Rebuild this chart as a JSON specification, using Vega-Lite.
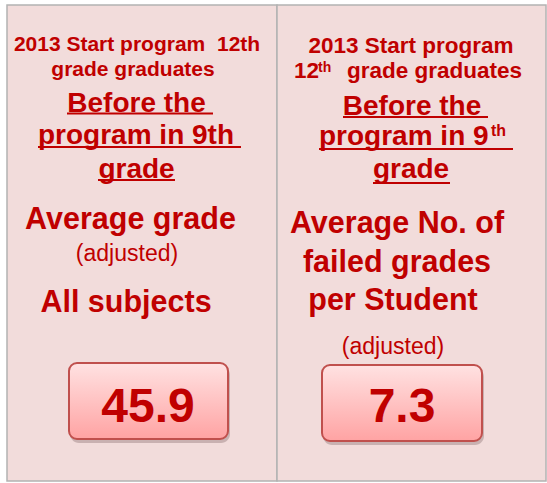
{
  "$schema": "https://vega.github.io/schema/vega-lite/v6.json",
  "width": 547,
  "height": 483,
  "padding": 0,
  "autosize": {"type": "fit", "contains": "padding"},
  "background": "white",
  "config": {"view": {"stroke": null}},
  "datasets": {
    "panels": [
      {"x0": 7, "x1": 277, "y0": 5, "y1": 481},
      {"x0": 277, "x1": 546, "y0": 5, "y1": 481}
    ],
    "shadows": [
      {"x0": 70, "x1": 230, "y0": 366, "y1": 443},
      {"x0": 323, "x1": 484, "y0": 368, "y1": 445}
    ],
    "boxes": [
      {"x0": 69, "x1": 228, "y0": 363, "y1": 439},
      {"x0": 322, "x1": 482, "y0": 365, "y1": 441}
    ],
    "boldCenter": [
      {"x": 137, "y": 51, "size": 21, "text": "2013 Start program\u00a0 12th"},
      {"x": 133, "y": 76, "size": 21, "text": "grade graduates"},
      {"x": 136.5, "y": 112, "size": 28, "text": "Before the"},
      {"x": 136, "y": 144, "size": 28, "text": "program in 9th"},
      {"x": 136.5, "y": 178, "size": 28, "text": "grade"},
      {"x": 130.5, "y": 229, "size": 30.5, "text": "Average grade"},
      {"x": 126, "y": 312, "size": 30.5, "text": "All subjects"},
      {"x": 148, "y": 422, "size": 48, "text": "45.9"},
      {"x": 411, "y": 53, "size": 22.5, "text": "2013 Start program"},
      {"x": 412, "y": 115, "size": 28, "text": "Before the"},
      {"x": 411, "y": 178, "size": 28, "text": "grade"},
      {"x": 397, "y": 233, "size": 30.5, "text": "Average No. of"},
      {"x": 397, "y": 272, "size": 30.5, "text": "failed grades"},
      {"x": 393, "y": 310, "size": 30.5, "text": "per Student"},
      {"x": 402, "y": 422, "size": 48, "text": "7.3"}
    ],
    "boldLeft": [
      {"x": 294, "y": 78, "size": 22.5, "text": "12"},
      {"x": 318, "y": 72, "size": 14, "text": "th"},
      {"x": 347, "y": 78, "size": 22.5, "text": "grade graduates"},
      {"x": 319, "y": 145, "size": 28, "text": "program in 9"},
      {"x": 491, "y": 136, "size": 16, "text": "th"}
    ],
    "regular": [
      {"x": 127, "y": 261, "size": 23, "text": "(adjusted)"},
      {"x": 393, "y": 354, "size": 23, "text": "(adjusted)"}
    ],
    "underlines": [
      {"x0": 67, "x1": 213, "y": 113.5},
      {"x0": 38, "x1": 241, "y": 147},
      {"x0": 98, "x1": 175, "y": 180},
      {"x0": 343, "x1": 488, "y": 117},
      {"x0": 319, "x1": 513, "y": 149},
      {"x0": 373, "x1": 450, "y": 183}
    ]
  },
  "layer": [
    {
      "data": {"name": "panels"},
      "mark": {"type": "rect", "fill": "#f2dcdb", "stroke": "#b3b3b3", "strokeWidth": 1.5},
      "encoding": {
        "x": {"field": "x0", "type": "quantitative", "scale": {"domain": [0, 547], "nice": false, "zero": false}, "axis": null},
        "x2": {"field": "x1"},
        "y": {"field": "y0", "type": "quantitative", "scale": {"domain": [0, 483], "nice": false, "zero": false, "reverse": true}, "axis": null},
        "y2": {"field": "y1"}
      }
    },
    {
      "data": {"name": "shadows"},
      "mark": {"type": "rect", "fill": "#6b5050", "opacity": 0.3, "cornerRadius": 9},
      "encoding": {
        "x": {"field": "x0", "type": "quantitative"},
        "x2": {"field": "x1"},
        "y": {"field": "y0", "type": "quantitative"},
        "y2": {"field": "y1"}
      }
    },
    {
      "data": {"name": "boxes"},
      "mark": {
        "type": "rect",
        "cornerRadius": 8,
        "stroke": "#c0504d",
        "strokeWidth": 2,
        "fill": {
          "gradient": "linear",
          "x1": 0, "y1": 0, "x2": 0, "y2": 1,
          "stops": [
            {"offset": 0, "color": "#ffe2e2"},
            {"offset": 1, "color": "#ffa3a3"}
          ]
        }
      },
      "encoding": {
        "x": {"field": "x0", "type": "quantitative"},
        "x2": {"field": "x1"},
        "y": {"field": "y0", "type": "quantitative"},
        "y2": {"field": "y1"}
      }
    },
    {
      "data": {"name": "underlines"},
      "mark": {"type": "rule", "color": "#c00000", "strokeWidth": 2},
      "encoding": {
        "x": {"field": "x0", "type": "quantitative"},
        "x2": {"field": "x1"},
        "y": {"field": "y", "type": "quantitative"}
      }
    },
    {
      "data": {"name": "boldCenter"},
      "mark": {"type": "text", "font": "Liberation Sans", "fontWeight": "bold", "color": "#c00000", "align": "center", "baseline": "alphabetic"},
      "encoding": {
        "x": {"field": "x", "type": "quantitative"},
        "y": {"field": "y", "type": "quantitative"},
        "size": {"field": "size", "type": "quantitative", "scale": null},
        "text": {"field": "text"}
      }
    },
    {
      "data": {"name": "boldLeft"},
      "mark": {"type": "text", "font": "Liberation Sans", "fontWeight": "bold", "color": "#c00000", "align": "left", "baseline": "alphabetic"},
      "encoding": {
        "x": {"field": "x", "type": "quantitative"},
        "y": {"field": "y", "type": "quantitative"},
        "size": {"field": "size", "type": "quantitative", "scale": null},
        "text": {"field": "text"}
      }
    },
    {
      "data": {"name": "regular"},
      "mark": {"type": "text", "font": "Liberation Sans", "fontWeight": "normal", "color": "#c00000", "align": "center", "baseline": "alphabetic"},
      "encoding": {
        "x": {"field": "x", "type": "quantitative"},
        "y": {"field": "y", "type": "quantitative"},
        "size": {"field": "size", "type": "quantitative", "scale": null},
        "text": {"field": "text"}
      }
    }
  ]
}
